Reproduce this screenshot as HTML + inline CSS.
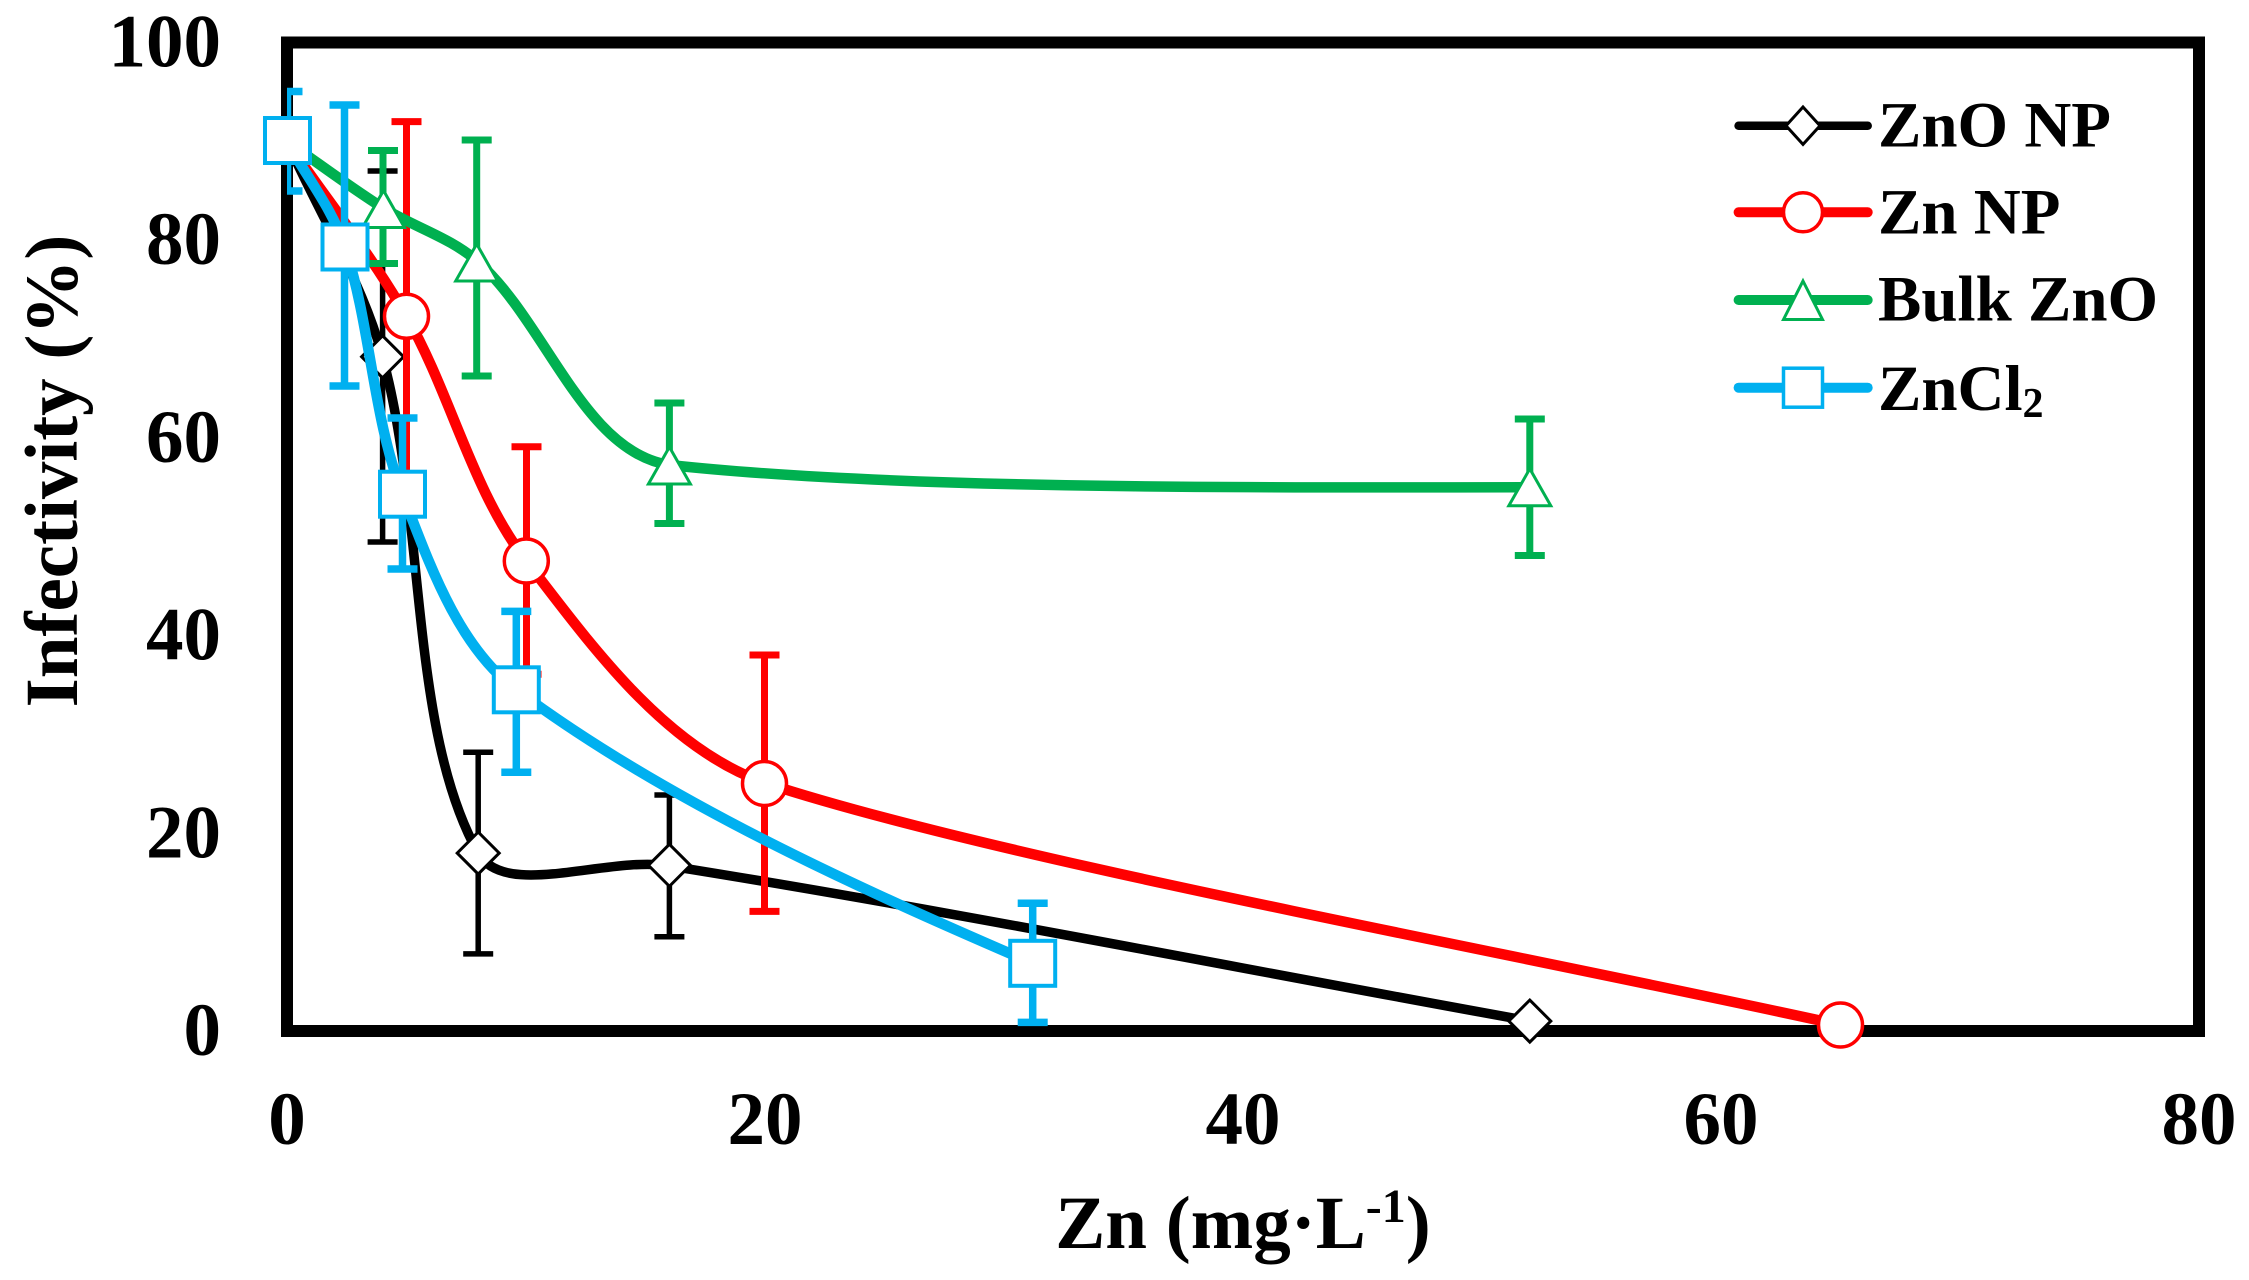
<!DOCTYPE html>
<html>
<head>
<meta charset="utf-8">
<style>
  html, body { margin: 0; padding: 0; background: #fff; }
  svg { display: block; }
  text { font-family: "Liberation Serif", "Times New Roman", serif; font-weight: bold; fill: #000; }
</style>
</head>
<body>
<svg width="2249" height="1280" viewBox="0 0 2249 1280" xmlns="http://www.w3.org/2000/svg">
  <defs>
    <clipPath id="plot">
      <rect x="287" y="42.5" width="1912" height="988.5"/>
    </clipPath>
  </defs>
  <rect x="0" y="0" width="2249" height="1280" fill="#fff"/>

  <!-- Frame -->
  <rect x="287" y="42.5" width="1912" height="988.5" fill="none" stroke="#000" stroke-width="12" stroke-linejoin="miter"/>

  <!-- Y tick labels -->
  <g font-size="75" text-anchor="end">
    <text x="221" y="66.5">100</text>
    <text x="221" y="264.2">80</text>
    <text x="221" y="461.9">60</text>
    <text x="221" y="659.6">40</text>
    <text x="221" y="857.3">20</text>
    <text x="221" y="1055">0</text>
  </g>
  <!-- X tick labels -->
  <g font-size="75" text-anchor="middle">
    <text x="287" y="1144">0</text>
    <text x="765" y="1144">20</text>
    <text x="1243" y="1144">40</text>
    <text x="1721" y="1144">60</text>
    <text x="2199" y="1144">80</text>
  </g>
  <!-- Axis titles -->
  <text x="1243" y="1248" font-size="75" text-anchor="middle">Zn (mg·L<tspan font-size="48" dy="-26">-1</tspan><tspan dy="26">)</tspan></text>
  <text transform="translate(77,471) rotate(-90)" font-size="75" text-anchor="middle">Infectivity (%)</text>

  <!-- ZnO NP (black) -->
  <g clip-path="url(#plot)" stroke="#000" stroke-width="5.5" fill="none">
    <path d="M382.6,171 V542 M367.6,171 H397.6 M367.6,542 H397.6"/>
    <path d="M478.2,752.2 V953.9 M463.2,752.2 H493.2 M463.2,953.9 H493.2"/>
    <path d="M669.4,795 V936.7 M654.4,795 H684.4 M654.4,936.7 H684.4"/>
  </g>
  <path clip-path="url(#plot)" d="M287,141.4 C318.9,213.2 362.3,281.4 382.6,356.8 C426.1,518.6 408.9,730.1 478.2,853.1 C504.5,899.7 606.4,855.8 669.4,865.9 C956.9,911.8 1243,969.4 1529.8,1021.1" fill="none" stroke="#000" stroke-width="9.5" stroke-linejoin="round"/>
  <g fill="#fff" stroke="#000" stroke-width="3">
    <path d="M287,120.4 L308,141.4 L287,162.4 L266,141.4 Z"/>
    <path d="M382.6,335.8 L403.6,356.8 L382.6,377.8 L361.6,356.8 Z"/>
    <path d="M478.2,832.1 L499.2,853.1 L478.2,874.1 L457.2,853.1 Z"/>
    <path d="M669.4,844.3 L690.4,865.3 L669.4,886.3 L648.4,865.3 Z"/>
    <path d="M1529.8,1000.1 L1550.8,1021.1 L1529.8,1042.1 L1508.8,1021.1 Z"/>
  </g>

  <!-- Zn NP (red) -->
  <g clip-path="url(#plot)" stroke="#FF0000" stroke-width="7" fill="none">
    <path d="M406.5,121.6 V511 M391.5,121.6 H421.5 M391.5,511 H421.5"/>
    <path d="M526.5,446.8 V674.2 M511.5,446.8 H541.5 M511.5,674.2 H541.5"/>
    <path d="M764.5,655 V911.4 M749.5,655 H779.5 M749.5,911.4 H779.5"/>
  </g>
  <path clip-path="url(#plot)" d="M287,141.4 C326.8,199.7 371.6,255.1 406.5,316.3 C451.3,394.8 471.7,489.8 526,560.5 C591.2,645.4 664.8,747.8 765,782.9 C1000,860 1500,950 1840.5,1025" fill="none" stroke="#FF0000" stroke-width="10.5" stroke-linejoin="round"/>
  <g fill="#fff" stroke="#FF0000" stroke-width="3.5">
    <circle cx="287" cy="141.4" r="22"/>
    <circle cx="406.5" cy="316.3" r="22"/>
    <circle cx="526.3" cy="561" r="22"/>
    <circle cx="764.5" cy="783.5" r="22"/>
    <circle cx="1840.5" cy="1025" r="22"/>
  </g>

  <!-- Bulk ZnO (green) -->
  <g clip-path="url(#plot)" stroke="#00B050" stroke-width="7" fill="none">
    <path d="M383,150.5 V263.5 M368,150.5 H398 M368,263.5 H398"/>
    <path d="M476.7,140 V376 M461.7,140 H491.7 M461.7,376 H491.7"/>
    <path d="M669.4,403 V523.5 M654.4,403 H684.4 M654.4,523.5 H684.4"/>
    <path d="M1529.8,419 V555.5 M1514.8,419 H1544.8 M1514.8,555.5 H1544.8"/>
  </g>
  <path clip-path="url(#plot)" d="M287,141.4 C318.9,163.5 349.8,186.9 382.6,207.6 C413.6,227.1 451.1,237.7 478.2,262 C546.7,323.4 583.8,452 669.4,465 C900,490 1250,487.3 1529.8,487.3" fill="none" stroke="#00B050" stroke-width="10.5" stroke-linejoin="round"/>
  <g fill="#fff" stroke="#00B050" stroke-width="3">
    <path d="M287,122.9 L308,159.9 L266,159.9 Z"/>
    <path d="M383.5,190.5 L404.5,227.5 L362.5,227.5 Z"/>
    <path d="M476.7,244 L497.7,281 L455.7,281 Z"/>
    <path d="M669.4,447 L690.4,484 L648.4,484 Z"/>
    <path d="M1529.8,468.8 L1550.8,505.8 L1508.8,505.8 Z"/>
  </g>

  <!-- ZnCl2 (blue) -->
  <g clip-path="url(#plot)" stroke="#00B0F0" stroke-width="7.5" fill="none">
    <path d="M287.5,91.5 V191 M272.5,91.5 H302.5 M272.5,191 H302.5"/>
    <path d="M344.5,105 V386 M329.5,105 H359.5 M329.5,386 H359.5"/>
    <path d="M402.5,418 V569 M387.5,418 H417.5 M387.5,569 H417.5"/>
    <path d="M516.3,611.4 V772.2 M501.3,611.4 H531.3 M501.3,772.2 H531.3"/>
    <path d="M1032.7,903.3 V1022.4 M1017.7,903.3 H1047.7 M1017.7,1022.4 H1047.7"/>
  </g>
  <path clip-path="url(#plot)" d="M287,141.4 C306.3,176.6 332.6,209.1 345,247 C371.1,326.7 372.3,416.2 402.5,494.2 C429.4,563.8 457.7,646.2 516.3,689.8 C667.7,802.5 860.7,889.3 1032.7,963.3" fill="none" stroke="#00B0F0" stroke-width="10.5" stroke-linejoin="round"/>
  <g fill="#fff" stroke="#00B0F0" stroke-width="4">
    <rect x="265" y="118" width="45" height="45"/>
    <rect x="322.5" y="224.5" width="45" height="45"/>
    <rect x="380" y="471.7" width="45" height="45"/>
    <rect x="493.8" y="667.3" width="45" height="45"/>
    <rect x="1010.2" y="940.8" width="45" height="45"/>
  </g>

  <!-- Legend -->
  <g>
    <line x1="1738.6" y1="125.7" x2="1867.7" y2="125.7" stroke="#000" stroke-width="8.5" stroke-linecap="round"/>
    <path d="M1803,107 L1820,125.7 L1803,144.4 L1786,125.7 Z" fill="#fff" stroke="#000" stroke-width="3"/>
    <text x="1878" y="146.7" font-size="65">ZnO NP</text>

    <line x1="1738.6" y1="212.3" x2="1867.7" y2="212.3" stroke="#FF0000" stroke-width="10" stroke-linecap="round"/>
    <circle cx="1803" cy="212.3" r="19.5" fill="#fff" stroke="#FF0000" stroke-width="3.5"/>
    <text x="1878" y="233.3" font-size="65">Zn NP</text>

    <line x1="1738.6" y1="300" x2="1867.7" y2="300" stroke="#00B050" stroke-width="10" stroke-linecap="round"/>
    <path d="M1803,281 L1822.5,319.5 L1783.5,319.5 Z" fill="#fff" stroke="#00B050" stroke-width="3"/>
    <text x="1878" y="320.7" font-size="65">Bulk ZnO</text>

    <line x1="1738.6" y1="387.7" x2="1867.7" y2="387.7" stroke="#00B0F0" stroke-width="10" stroke-linecap="round"/>
    <rect x="1783.5" y="368.2" width="39" height="39" fill="#fff" stroke="#00B0F0" stroke-width="3.5"/>
    <text x="1878" y="410" font-size="65">ZnCl<tspan font-size="42" dy="7">2</tspan></text>
  </g>
</svg>
</body>
</html>
